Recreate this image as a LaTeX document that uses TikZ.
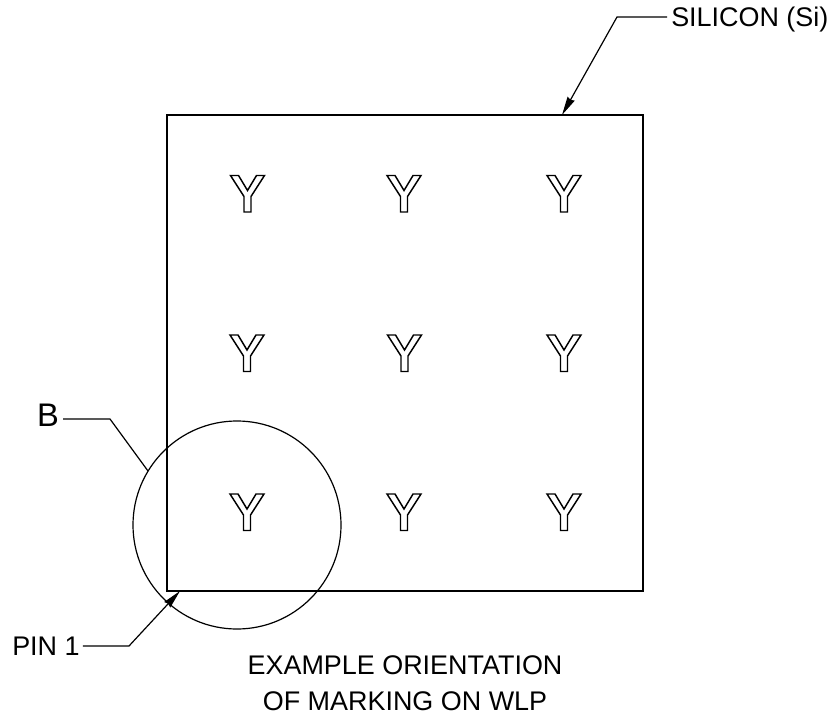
\documentclass[tikz,border=0pt]{standalone}
\usepackage{fontspec}
\setmainfont{Liberation Sans}
\usetikzlibrary{arrows.meta}
\tikzset{
  x=0.75pt,y=-0.75pt,
  die/.style={draw,line width=1.4pt,rectangle,minimum width=357pt,minimum height=357pt,inner sep=0pt},
  detail/.style={draw,line width=0.9pt,circle,minimum size=156pt,inner sep=0pt},
  leader/.style={line width=0.9pt},
  tipped/.style={leader,-{Stealth[length=14pt,width=6pt,inset=1pt]}},
  lab/.style={inner sep=0pt,font=\fontsize{20.2pt}{27pt}\selectfont,align=center},
  biglab/.style={inner sep=0pt,font=\fontsize{24.5pt}{28pt}\selectfont},
  ymark/.pic={\draw[line width=1.1pt,line join=miter]
    (-17,0)--(-9,0)--(0,15)--(9,0)--(17,0)--(3.5,21)--(3.5,36.5)--(-3.5,36.5)--(-3.5,21)--cycle;}
}
\begin{document}
\begin{tikzpicture}
\useasboundingbox (0,0) rectangle (827,716);
\node[die] (chip) at (405,353) {};
\node[detail] (zone) at (237,525) {};
\foreach \cx/\ty in {247.5/175.5,404/175.5,564/175.5,247/335,404.5/335,564/335,247/494,404/494,564/494}
  \pic at (\cx,\ty) {ymark};
\node[lab,anchor=base west] (si) at (671,26.7) {SILICON (Si)};
\node[biglab,anchor=base] (b) at (48,426.5) {B};
\node[lab,anchor=base west] (pin) at (12,655.7) {PIN 1};
\node[lab] (cap) at (405,683) {EXAMPLE ORIENTATION\\OF MARKING ON WLP};
\coordinate (sibend) at (617,17);
\coordinate (sitip) at (562,115);
\coordinate (bbend) at (110,419);
\coordinate (bend) at (148,471);
\coordinate (pinbend) at (129,646);
\coordinate (pintip) at (180,591);
\draw[tipped] (si.west |- sibend) ++(-4,0) -- (sibend) -- (sitip);
\draw[leader] (b.east |- bbend) ++(4,0) -- (bbend) -- (bend);
\draw[tipped] (pin.east |- pinbend) ++(3,0) -- (pinbend) -- (pintip);
\end{tikzpicture}
\end{document}
